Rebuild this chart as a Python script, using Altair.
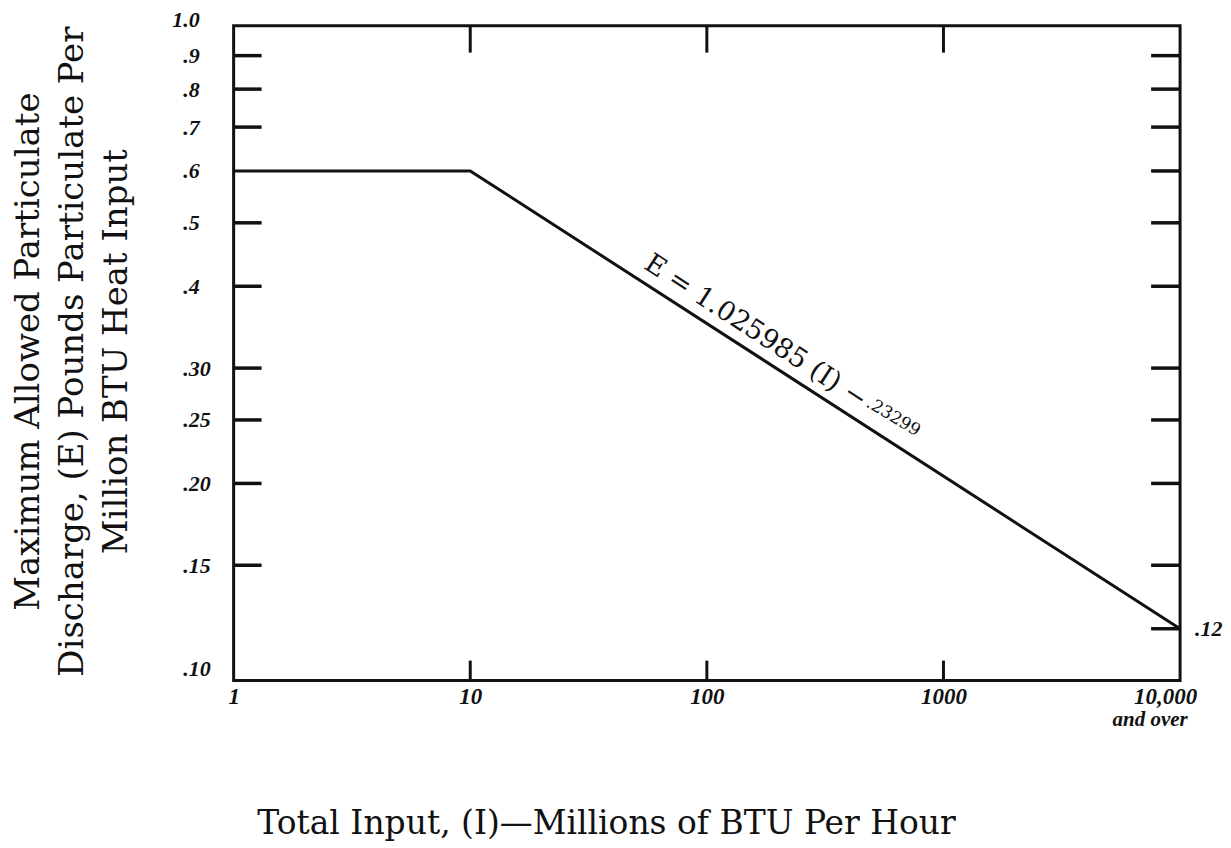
import altair as alt
import pandas as pd

# ---- data ----
I_vals = [1, 10, 10000]
E_vals = [0.6, 0.6, 0.12]

x_tick_values = [1, 10, 100, 1000, 10000]
x_tick_labels = ["1", "10", "100", "1000", "10,000"]
y_tick_values = [1.0, 0.9, 0.8, 0.7, 0.6, 0.5, 0.4, 0.30, 0.25, 0.20, 0.15, 0.10]
y_tick_labels = ["1.0", ".9", ".8", ".7", ".6", ".5", ".4", ".30", ".25", ".20", ".15", ".10"]
left_ticks = [0.9, 0.8, 0.7, 0.5, 0.4, 0.30, 0.25, 0.20, 0.15]
right_ticks = [0.9, 0.8, 0.7, 0.6, 0.5, 0.4, 0.30, 0.25, 0.20, 0.15, 0.12]
top_ticks = [10, 100, 1000]
bottom_ticks = [10, 100, 1000]

eq_text = ["E = 1.025985 (I) \u2212"]
eq_I = [144]
eq_E = [0.3205]
exp_text = [".23299"]
exp_I = [542]
exp_E = [0.2343]
end_text = [".12"]
end_I = [10000]
end_E = [0.12]
over_text = ["and over"]
over_I = [10000]

x_title = "Total Input, (I)\u2014Millions of BTU Per Hour"
y_title = ["Maximum Allowed Particulate",
           "Discharge, (E) Pounds Particulate Per",
           "Million BTU Heat Input"]

W, H = 948, 656
INK = "#111111"


def label_expr(values, labels):
    expr = "''"
    for v, l in reversed(list(zip(values, labels))):
        expr = f"datum.value == {v} ? '{l}' : {expr}"
    return expr


xs = alt.Scale(type="log", domain=[1, 10000], nice=False)
ys = alt.Scale(type="log", domain=[0.1, 1.0], nice=False)

xaxis = alt.Axis(
    values=x_tick_values, labelExpr=label_expr(x_tick_values, x_tick_labels),
    title=x_title, domain=False, ticks=False, tickSize=0, grid=False,
    labelFont="Liberation Serif", labelFontStyle="italic", labelFontWeight="bold",
    labelFontSize=23, labelPadding=5, labelColor=INK, labelFlush=False, labelOverlap=False,
    labelOffset={"condition": {"test": "datum.value >= 10000", "value": -15}, "value": 0},
    titleFont="DejaVu Serif", titleFontSize=33, titleFontWeight="normal", titleColor=INK,
    titleX=373, titleY=153, titleAlign="center", titleBaseline="alphabetic",
)
yaxis = alt.Axis(
    values=y_tick_values, labelExpr=label_expr(y_tick_values, y_tick_labels),
    title=y_title, domain=False, ticks=False, tickSize=0, grid=False,
    labelFont="Liberation Serif", labelFontStyle="italic", labelFontWeight="bold",
    labelFontSize=22, labelAlign="left", labelColor=INK, labelFlush=False, labelOverlap=False,
    labelPadding={"condition": {"test": "datum.value > 0.95", "value": 62}, "value": 51},
    labelOffset={"condition": [{"test": "datum.value < 0.11", "value": -12},
                               {"test": "datum.value > 0.95", "value": -6}], "value": 0},
    titleFont="DejaVu Serif", titleFontSize=34, titleFontWeight="normal", titleColor=INK,
    titleAngle=270, titleX=-222, titleY=326, titleAlign="center", titleBaseline="top",
    titleLineHeight=44,
)

X = alt.X("I:Q", scale=xs, axis=xaxis)
Y = alt.Y("E:Q", scale=ys, axis=yaxis)

line = alt.Chart(pd.DataFrame({"I": I_vals, "E": E_vals})).mark_line(
    color=INK, strokeWidth=3).encode(x=X, y=Y)

lt = alt.Chart(pd.DataFrame({"E": left_ticks})).mark_rule(color=INK, strokeWidth=3.5).encode(
    y=Y, x=alt.value(0), x2=alt.value(28))
rt = alt.Chart(pd.DataFrame({"E": right_ticks})).mark_rule(color=INK, strokeWidth=3.5).encode(
    y=Y, x=alt.value(W - 29), x2=alt.value(W))
tt = alt.Chart(pd.DataFrame({"I": top_ticks})).mark_rule(color=INK, strokeWidth=3).encode(
    x=X, y=alt.value(0), y2=alt.value(27))
bt = alt.Chart(pd.DataFrame({"I": bottom_ticks})).mark_rule(color=INK, strokeWidth=3).encode(
    x=X, y=alt.value(H - 20), y2=alt.value(H))

eq = alt.Chart(pd.DataFrame({"I": eq_I, "E": eq_E, "t": eq_text})).mark_text(
    angle=33, align="center", baseline="alphabetic", dy=-13,
    font="DejaVu Serif", fontSize=27, color=INK).encode(x=X, y=Y, text="t:N")
ex = alt.Chart(pd.DataFrame({"I": exp_I, "E": exp_E, "t": exp_text})).mark_text(
    angle=31, align="center", baseline="middle", dy=-25,
    font="DejaVu Serif", fontSize=17, color=INK).encode(x=X, y=Y, text="t:N")
end = alt.Chart(pd.DataFrame({"I": end_I, "E": end_E, "t": end_text})).mark_text(
    align="left", baseline="middle", dx=15, font="Liberation Serif", fontStyle="italic",
    fontWeight="bold", fontSize=22, color=INK).encode(x=X, y=Y, text="t:N")
over = alt.Chart(pd.DataFrame({"I": over_I, "t": over_text})).mark_text(
    align="center", baseline="middle", dx=-30, font="Liberation Serif", fontStyle="italic",
    fontWeight="bold", fontSize=21, color=INK).encode(x=X, y=alt.value(H + 39), text="t:N")

chart = alt.layer(line, lt, rt, tt, bt, eq, ex, end, over).properties(
    width=W, height=H, background="white",
    padding={"left": 4, "top": 0, "right": 0, "bottom": 0}
).configure_view(stroke=INK, strokeWidth=3)

chart.save("out.html", embed_options={"renderer": "svg", "actions": False})
